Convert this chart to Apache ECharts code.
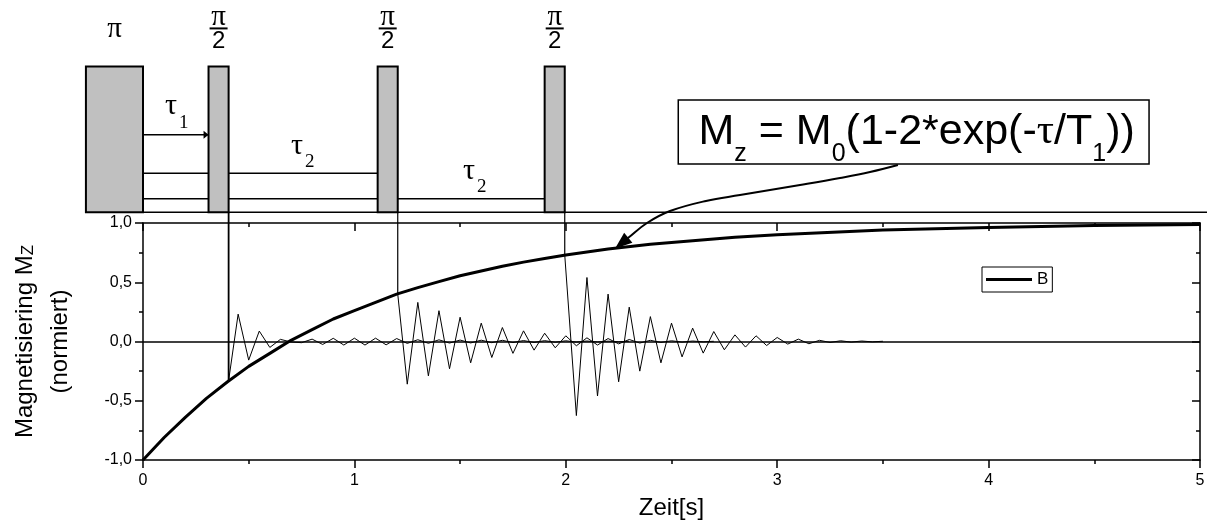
<!DOCTYPE html>
<html><head><meta charset="utf-8">
<script src="https://cdn.jsdelivr.net/npm/echarts@6/dist/echarts.min.js"></script>
<style>html,body{margin:0;padding:0;background:#fff}#c{width:1207px;height:528px}</style>
</head><body><div id="c"></div>
<script>
// ---- axis ticks ----
const xTicks = [0, 1, 2, 3, 4, 5];
const yTicks = [-1, -0.5, 0, 0.5, 1];

// ---- recovery curve ----
const curveT = [0, 0.1, 0.2, 0.3, 0.4, 0.5, 0.6, 0.7, 0.8, 0.9, 1.0, 1.1, 1.2, 1.3, 1.4, 1.5, 1.6, 1.7, 1.8, 1.9, 2.0, 2.2, 2.4, 2.6, 2.8, 3.0, 3.5, 4.0, 4.5, 5.0];
const curveM = [-1.0, -0.81, -0.64, -0.48, -0.34, -0.21, -0.10, 0.01, 0.10, 0.19, 0.26, 0.33, 0.40, 0.455, 0.505, 0.555, 0.595, 0.635, 0.67, 0.70, 0.73, 0.78, 0.82, 0.85, 0.88, 0.90, 0.94, 0.963, 0.978, 0.987];

// ---- FID after first pi/2 pulse ----
const fid1T = [0.405, 0.45, 0.50, 0.55, 0.60, 0.65, 0.70, 0.75, 0.80, 0.85, 0.90, 0.95, 1.00, 1.05, 1.10, 1.15, 1.20, 1.25, 1.30, 1.35, 1.40, 1.45, 1.50, 1.55, 1.60, 1.65, 1.70, 1.75, 1.80, 1.85, 1.90, 1.95, 2.00, 2.05, 2.10, 2.15, 2.20, 2.25, 2.30];
const fid1V = [-0.33, 0.231, -0.157, 0.088, -0.05, 0.018, -0.004, -0.01, 0.02, -0.025, 0.027, -0.03, 0.028, -0.03, 0.028, -0.028, 0.025, -0.016, 0.015, -0.015, 0.014, -0.013, 0.012, -0.012, 0.011, -0.01, 0.01, -0.009, 0.008, -0.008, 0.007, -0.006, 0.006, -0.005, 0.004, -0.004, 0.003, -0.002, 0.002];

// ---- FID after second pi/2 pulse ----
const fid2T = [1.205, 1.25, 1.30, 1.35, 1.40, 1.45, 1.50, 1.55, 1.60, 1.65, 1.70, 1.75, 1.80, 1.85, 1.90, 1.95, 2.00, 2.05, 2.10, 2.15, 2.20, 2.25, 2.30, 2.35, 2.40, 2.45, 2.50, 2.55, 2.60, 2.65, 2.70];
const fid2V = [0.40, -0.36, 0.33, -0.29, 0.26, -0.23, 0.205, -0.18, 0.155, -0.135, 0.118, -0.10, 0.09, -0.073, 0.07, -0.053, 0.048, -0.036, 0.031, -0.03, 0.025, -0.02, 0.017, -0.013, 0.01, -0.008, 0.006, -0.005, 0.004, -0.003, 0.002];

// ---- FID after third pi/2 pulse ----
const fid3T = [1.995, 2.05, 2.10, 2.15, 2.20, 2.25, 2.30, 2.35, 2.40, 2.45, 2.50, 2.55, 2.60, 2.65, 2.70, 2.75, 2.80, 2.85, 2.90, 2.95, 3.00, 3.05, 3.10, 3.15, 3.20, 3.25, 3.30, 3.35, 3.40, 3.45, 3.50];
const fid3V = [0.73, -0.625, 0.54, -0.46, 0.40, -0.34, 0.29, -0.25, 0.21, -0.18, 0.155, -0.13, 0.113, -0.098, 0.084, -0.07, 0.056, -0.047, 0.048, -0.034, 0.034, -0.022, 0.02, -0.019, 0.01, -0.008, 0.006, -0.005, 0.004, -0.003, 0.002];

// ---- pulse sequence sketch (time axis units) ----
const pulseStart = [-0.27, 0.31, 1.11, 1.90];
const pulseEnd = [0.0, 0.405, 1.205, 1.995];
const pulseNames = ['π', 'π/2', 'π/2', 'π/2'];
const tauLabels = ['1', '2', '2'];

const zip = (a, b) => a.map((t, i) => [t, b[i]]);

// ---- layout levels (in magnetisation axis units, above the plot) ----
const L = {
  base: 1.09, top: 2.32, lines: [1.744, 1.419, 1.204],
  baseFrom: -0.27, baseTo: 5.035,
  piY: 2.63, fracTop: 2.738, fracBar: 2.642, fracBot: 2.532,
  tauPos: [[0.104, 1.985], [0.70, 1.65], [1.514, 1.441]],
  box: [2.532, 2.038, 4.759, 1.498],
  arrow: [[3.571, 1.489], [3.439, 1.430], [3.297, 1.380], [3.108, 1.321], [2.824, 1.236], [2.663, 1.186], [2.493, 1.101], [2.384, 1.0], [2.294, 0.873], [2.233, 0.785]]
};
const connectorWidth = [1.8, 1.2, 1.2];

const SANS = 'Liberation Sans, Arial, sans-serif';
const SERIF = 'Liberation Serif, Times New Roman, serif';

function renderAnnot(params, api) {
  const P = (t, v) => api.coord([t, v]);
  const ch = [];
  const seg = (a, b, w) => ch.push({type: 'line', shape: {x1: a[0], y1: a[1], x2: b[0], y2: b[1]}, style: {stroke: '#000', lineWidth: w}});
  seg(P(L.baseFrom, L.base), P(L.baseTo, L.base), 1.5);
  L.lines.forEach((lv, k) => {
    for (let i = 0; i <= k; i++) seg(P(pulseEnd[i], lv), P(pulseStart[i + 1], lv), 1.5);
  });
  const tip = P(pulseStart[1], L.lines[0]);
  ch.push({type: 'polygon', shape: {points: [[tip[0], tip[1]], [tip[0] - 5, tip[1] - 4], [tip[0] - 5, tip[1] + 4]]}, style: {fill: '#000'}});
  const firsts = [fid1V[0], fid2V[0], fid3V[0]];
  for (let i = 1; i < 4; i++) seg(P(pulseEnd[i], L.base), P(pulseEnd[i], firsts[i - 1]), connectorWidth[i - 1]);
  for (let i = 0; i < 4; i++) {
    const a = P(pulseStart[i], L.top), c = P(pulseEnd[i], L.base);
    ch.push({type: 'rect', shape: {x: a[0], y: a[1], width: c[0] - a[0], height: c[1] - a[1]}, style: {fill: '#c0c0c0', stroke: '#000', lineWidth: 2}});
    const cx = (pulseStart[i] + pulseEnd[i]) / 2;
    if (pulseNames[i] === 'π') {
      const p = P(cx, L.piY);
      ch.push({type: 'text', x: p[0], y: p[1], style: {text: 'π', font: '29px ' + SERIF, fill: '#000', align: 'center', verticalAlign: 'middle'}});
    } else {
      const p1 = P(cx, L.fracTop), p2 = P(cx, L.fracBar), p3 = P(cx, L.fracBot);
      ch.push({type: 'text', x: p1[0], y: p1[1], style: {text: 'π', font: '29px ' + SERIF, fill: '#000', align: 'center', verticalAlign: 'middle'}});
      seg([p2[0] - 9, p2[1]], [p2[0] + 9, p2[1]], 2);
      ch.push({type: 'text', x: p3[0], y: p3[1], style: {text: '2', font: '24px ' + SANS, fill: '#000', align: 'center', verticalAlign: 'middle'}});
    }
  }
  L.tauPos.forEach((tp, i) => {
    const p = P(tp[0], tp[1]);
    ch.push({type: 'text', x: p[0], y: p[1], style: {
      text: '{t|τ}{s|' + tauLabels[i] + '}', align: 'left', verticalAlign: 'middle', lineHeight: 34,
      rich: {t: {font: '30px ' + SERIF, fill: '#000'}, s: {font: '19px ' + SERIF, fill: '#000', padding: [33, 0, 0, 2]}}
    }});
  });
  const b0 = P(L.box[0], L.box[1]), b1 = P(L.box[2], L.box[3]);
  ch.push({type: 'rect', shape: {x: b0[0], y: b0[1], width: b1[0] - b0[0], height: b1[1] - b0[1]}, style: {fill: '#fff', stroke: '#000', lineWidth: 1.5}});
  ch.push({type: 'text', x: (b0[0] + b1[0]) / 2 + 3, y: (b0[1] + b1[1]) / 2, style: {
    text: '{m|M}{s|z}{m| = M}{s|0}{m|(1-2*exp(-}{g|τ}{m|/T}{s|1}{m|))}',
    align: 'center', verticalAlign: 'middle', lineHeight: 50,
    rich: {m: {font: '43px ' + SANS, fill: '#000'}, g: {font: '43px ' + SERIF, fill: '#000'}, s: {font: '25px ' + SANS, fill: '#000', padding: [45, 0, 0, 0]}}
  }});
  const pts = L.arrow.map(q => P(q[0], q[1]));
  const n = pts.length;
  const tp = pts[n - 1], pr = pts[n - 2];
  let dx = tp[0] - pr[0], dy = tp[1] - pr[1];
  const len = Math.hypot(dx, dy); dx /= len; dy /= len;
  const hl = 17, hw = 6.5;
  const bc = [tp[0] - dx * hl, tp[1] - dy * hl];
  ch.push({type: 'polyline', shape: {points: pts.slice(0, n - 1).concat([bc]), smooth: 0.4}, style: {stroke: '#000', lineWidth: 2, fill: null}});
  ch.push({type: 'polygon', shape: {points: [tp, [bc[0] - dy * hw, bc[1] + dx * hw], [bc[0] + dy * hw, bc[1] - dx * hw]]}, style: {fill: '#000'}});
  return {type: 'group', children: ch};
}

const axisLine = {show: true, onZero: false, lineStyle: {color: '#000', width: 1.5}};
const chart = echarts.init(document.getElementById('c'), null, {renderer: 'canvas'});
chart.setOption({
  animation: false,
  backgroundColor: '#fff',
  grid: {left: 143, right: 7, top: 223, bottom: 68, containLabel: false, outerBoundsMode: 'none'},
  legend: {
    data: [{name: 'B', icon: 'rect'}], left: 982, top: 267, padding: [4, 4, 4, 4],
    borderColor: '#000', borderWidth: 1, itemWidth: 46, itemHeight: 3,
    itemStyle: {color: '#000'},
    textStyle: {color: '#000', fontSize: 17, fontFamily: SANS, lineHeight: 17}
  },
  xAxis: [{
    type: 'value', position: 'bottom', min: xTicks[0], max: xTicks[xTicks.length - 1], interval: 1,
    axisLine, axisTick: {show: true, inside: false, length: 8, lineStyle: {color: '#000', width: 1.5}},
    minorTick: {show: true, splitNumber: 2, length: 4, lineStyle: {color: '#000', width: 1.5}},
    splitLine: {show: false},
    axisLabel: {color: '#000', fontSize: 16, fontFamily: SANS, margin: 13},
    name: 'Zeit[s]', nameLocation: 'middle', nameGap: 36,
    nameTextStyle: {color: '#000', fontSize: 24, fontFamily: SANS}
  }, {
    type: 'value', position: 'top', min: xTicks[0], max: xTicks[xTicks.length - 1], interval: 1,
    axisLine, axisTick: {show: true, inside: true, length: 8, lineStyle: {color: '#000', width: 1.5}},
    minorTick: {show: true, splitNumber: 2, length: 4, lineStyle: {color: '#000', width: 1.5}},
    splitLine: {show: false}, axisLabel: {show: false}
  }],
  yAxis: [{
    type: 'value', position: 'left', min: yTicks[0], max: yTicks[yTicks.length - 1], interval: 0.5,
    axisLine, axisTick: {show: true, inside: false, length: 8, lineStyle: {color: '#000', width: 1.5}},
    minorTick: {show: true, splitNumber: 2, length: 4, lineStyle: {color: '#000', width: 1.5}},
    splitLine: {show: false},
    axisLabel: {color: '#000', fontSize: 16, fontFamily: SANS, margin: 11, formatter: v => v.toFixed(1).replace('.', ',')},
    name: '{a|Magnetisiering M}{z|Z}\n{a|(normiert)}', nameLocation: 'middle', nameGap: 65,
    nameTextStyle: {color: '#000', fontSize: 24, fontFamily: SANS, lineHeight: 35,
      rich: {a: {fontSize: 24, fontFamily: SANS, color: '#000'}, z: {fontSize: 17, fontFamily: SANS, color: '#000', padding: [6, 0, 0, 0]}}}
  }, {
    type: 'value', position: 'right', min: yTicks[0], max: yTicks[yTicks.length - 1], interval: 0.5,
    axisLine, axisTick: {show: true, inside: true, length: 8, lineStyle: {color: '#000', width: 1.5}},
    minorTick: {show: true, splitNumber: 2, length: 4, lineStyle: {color: '#000', width: 1.5}},
    splitLine: {show: false}, axisLabel: {show: false}
  }],
  series: [
    {type: 'custom', name: 'sketch', coordinateSystem: 'cartesian2d', clip: false, silent: true, z: 1,
     data: [[0, 0]], renderItem: renderAnnot},
    {type: 'line', name: 'fid1', data: zip(fid1T, fid1V), symbol: 'none', lineStyle: {color: '#000', width: 1}, z: 3,
     markLine: {silent: true, symbol: ['none', 'none'], label: {show: false}, data: [{yAxis: 0}], lineStyle: {color: '#000', width: 1.5, type: 'solid'}}},
    {type: 'line', name: 'fid2', data: zip(fid2T, fid2V), symbol: 'none', lineStyle: {color: '#000', width: 1}, z: 3},
    {type: 'line', name: 'fid3', data: zip(fid3T, fid3V), symbol: 'none', lineStyle: {color: '#000', width: 1}, z: 3},
    {type: 'line', name: 'B', data: zip(curveT, curveM), symbol: 'none', smooth: false, lineStyle: {color: '#000', width: 3}, itemStyle: {color: '#000'}, z: 4}
  ]
});
</script></body></html>
